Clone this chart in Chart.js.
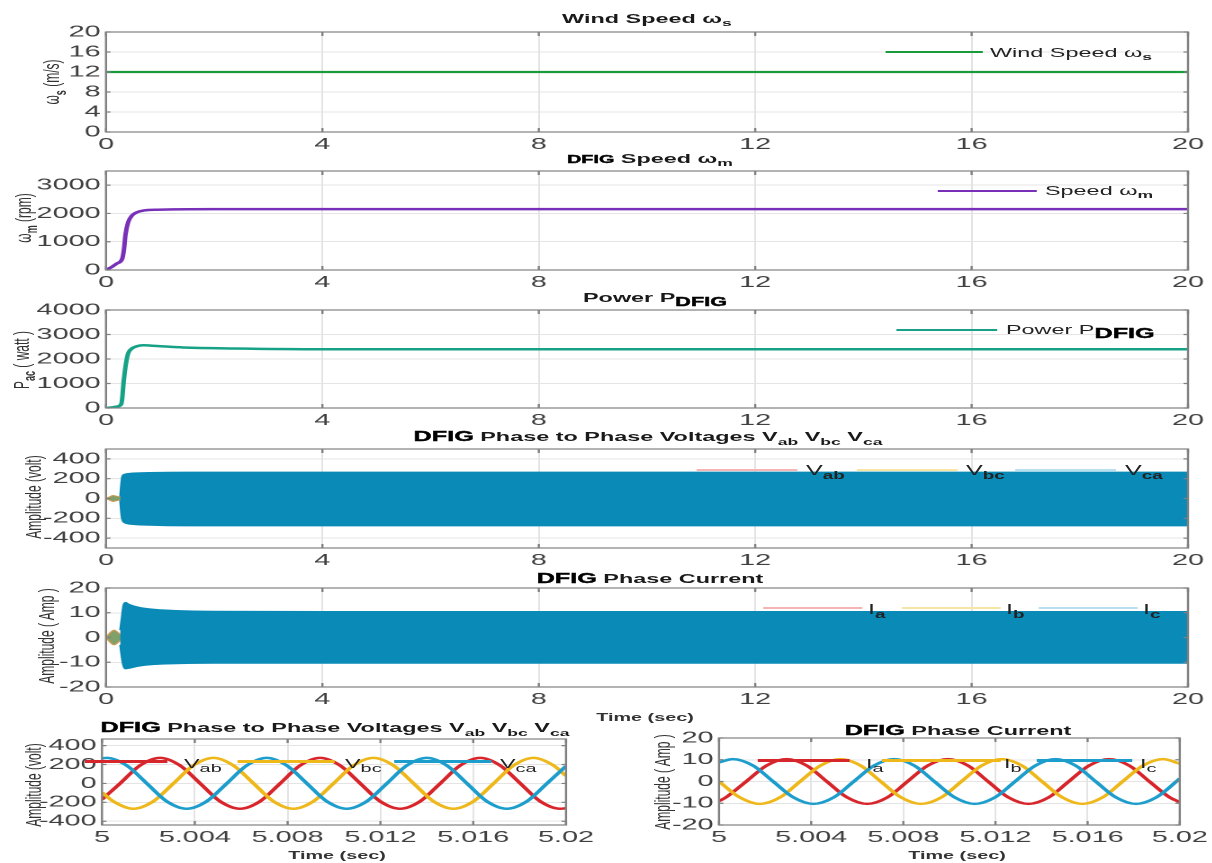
<!DOCTYPE html>
<html>
<head>
<meta charset="utf-8">
<title>DFIG results</title>
<script src="https://cdn.jsdelivr.net/npm/chart.js@4.4.1/dist/chart.umd.min.js"></script>
<style>
html, body { margin: 0; padding: 0; background: #fff; }
body { width: 1212px; height: 863px; overflow: hidden; position: relative; }
#fig { position: absolute; left: 0; top: 0; width: 674px; height: 863px;
       transform: scaleX(1.8); transform-origin: 0 0;
       font-family: "Liberation Sans", Arial, sans-serif; color: #222; }
#fig canvas { position: absolute; left: 0; }
.ttl { position: absolute; font-weight: bold; font-size: 13px; white-space: nowrap;
       transform: translate(-50%, -50%); color: #1a1a1a; line-height: 1; }
.dfig { font-weight: bold; color: #000; -webkit-text-stroke: 0.4px #000; }
.ylab { position: absolute; font-size: 12px; white-space: nowrap; color: #333; line-height: 1;
        transform: translate(-50%, -50%) rotate(-90deg); }
.xlab { position: absolute; font-weight: bold; font-size: 11px; white-space: nowrap; color: #333;
        transform: translate(-50%, -50%); line-height: 1; }
.leg { position: absolute; white-space: nowrap; font-size: 13px; line-height: 1;
       transform: translateY(-50%); color: #222; }
.big { font-size: 14px; }
.legline { position: absolute; }
sub { font-size: 0.75em; font-weight: bold; vertical-align: -0.4em; line-height: 0; }
sub.reg { font-weight: normal; font-size: 0.85em; }
</style>
</head>
<body>
<div id="fig"></div>
<script>
// ---- data ----
// time axis of the long runs (s)
var fullXTicks = [0, 4, 8, 12, 16, 20];
var fullXLabels = ['0', '4', '8', '12', '16', '20'];
// zoomed window (s)
var zoomXTicks = [5, 5.004, 5.008, 5.012, 5.016, 5.02];
var zoomXLabels = ['5', '5.004', '5.008', '5.012', '5.016', '5.02'];

var windYTicks = [0, 4, 8, 12, 16, 20];
var speedYTicks = [0, 1000, 2000, 3000];
var powerYTicks = [0, 1000, 2000, 3000, 4000];
var voltYTicks = [-400, -200, 0, 200, 400];
var currYTicks = [-20, -10, 0, 10, 20];

// wind speed (m/s)
var windT = [0, 20];
var windV = [12, 12];

// DFIG speed (rpm)
var speedT = [0, 0.1, 0.2, 0.3, 0.33, 0.36, 0.41, 0.48, 0.57, 0.69, 0.94, 2, 20];
var speedV = [0, 100, 230, 400, 700, 1250, 1690, 1925, 2040, 2100, 2130, 2150, 2150];

// DFIG power (W)
var powerT = [0, 0.1, 0.2, 0.28, 0.3, 0.33, 0.37, 0.41, 0.48, 0.57, 0.69, 0.94, 1.43, 2.36, 4, 20];
var powerV = [0, 20, 60, 150, 400, 1150, 1830, 2230, 2430, 2520, 2560, 2530, 2470, 2430, 2400, 2400];

// envelope of the phase to phase voltages (V)
var vEnvT = [0.26, 0.28, 0.3, 0.34, 0.45, 0.8, 1.5, 20];
var vEnvHi = [20, 150, 225, 245, 255, 262, 266, 266];
var vEnvLo = [-20, -150, -215, -245, -260, -270, -276, -277];
var vEarlyT = [0, 0.06, 0.13, 0.2, 0.27];
var vEarlyHi = [0, 15, 30, 22, 12];
var vEarlyLo = [0, -15, -30, -22, -12];

// envelope of the phase currents (A)
var iEnvT = [0.26, 0.29, 0.32, 0.36, 0.42, 0.6, 0.9, 1.3, 2, 4, 20];
var iEnvHi = [3, 8, 13, 14.2, 13.5, 12.3, 11.4, 10.9, 10.6, 10.5, 10.5];
var iEnvLo = [-3, -8, -11.5, -12.7, -12.5, -11.6, -10.9, -10.6, -10.4, -10.4, -10.4];
var iEarlyT = [0, 0.08, 0.15, 0.22, 0.27];
var iEarlyHi = [0, 2, 3, 2, 1];
var iEarlyLo = [0, -2, -3, -2, -1];

// zoomed voltages, time in ms after 5 s
var vabMs = [0, 0.78, 1.64, 2.5, 3.36, 4.23, 5.09, 5.95, 6.81, 7.68, 8.54, 9.4, 10.26, 11.13, 11.99, 12.85, 13.71, 14.58, 15.44, 16.3, 17.16, 18.03, 18.89, 19.75, 20];
var vabV = [-170, 0, 190, 270, 190, 0, -190, -268, -190, 0, 190, 270, 190, 0, -190, -268, -190, 0, 190, 270, 190, 0, -190, -268, -262];
var vbcMs = [0, 0.49, 1.35, 2.21, 3.08, 3.94, 4.8, 5.66, 6.53, 7.39, 8.25, 9.11, 9.98, 10.84, 11.7, 12.56, 13.43, 14.29, 15.15, 16.01, 16.88, 17.74, 18.6, 19.46, 20];
var vbcV = [-95, -190, -268, -190, 0, 190, 270, 190, 0, -190, -268, -190, 0, 190, 270, 190, 0, -190, -268, -190, 0, 190, 270, 190, 79];
var vcaMs = [0, 0.2, 1.06, 1.93, 2.79, 3.65, 4.51, 5.38, 6.24, 7.1, 7.96, 8.83, 9.69, 10.55, 11.41, 12.28, 13.14, 14.0, 14.86, 15.73, 16.59, 17.45, 18.31, 19.18, 20];
var vcaV = [265, 270, 190, 0, -190, -268, -190, 0, 190, 270, 190, 0, -190, -268, -190, 0, 190, 270, 190, 0, -190, -268, -190, 0, 184];

// zoomed currents, time in ms after 5 s
var iaMs = [0, 0.3, 1.18, 2.06, 2.93, 3.81, 4.68, 5.56, 6.43, 7.31, 8.18, 9.06, 9.93, 10.81, 11.68, 12.56, 13.43, 14.31, 15.18, 16.06, 16.93, 17.81, 18.68, 19.56, 20];
var iaV = [-9.0, -7.3, 0, 7.3, 10.3, 7.3, 0, -7.3, -10.3, -7.3, 0, 7.3, 10.3, 7.3, 0, -7.3, -10.3, -7.3, 0, 7.3, 10.3, 7.3, 0, -7.3, -9.5];
var ibMs = [0, 0.9, 1.77, 2.65, 3.52, 4.4, 5.27, 6.15, 7.02, 7.9, 8.77, 9.65, 10.52, 11.4, 12.27, 13.15, 14.02, 14.9, 15.77, 16.65, 17.52, 18.4, 19.27, 20];
var ibV = [0, -7.3, -10.3, -7.3, 0, 7.3, 10.3, 7.3, 0, -7.3, -10.3, -7.3, 0, 7.3, 10.3, 7.3, 0, -7.3, -10.3, -7.3, 0, 7.3, 10.3, 8.2];
var icMs = [0, 0.6, 1.48, 2.35, 3.23, 4.1, 4.98, 5.85, 6.73, 7.6, 8.48, 9.35, 10.23, 11.1, 11.98, 12.85, 13.73, 14.6, 15.48, 16.35, 17.23, 18.1, 18.98, 19.85, 20];
var icV = [8.8, 10.3, 7.3, 0, -7.3, -10.3, -7.3, 0, 7.3, 10.3, 7.3, 0, -7.3, -10.3, -7.3, 0, 7.3, 10.3, 7.3, 0, -7.3, -10.3, -7.3, 0, 1.4];

// ---- drawing ----
var S = 1.8;      // the picture is stretched sideways, so is the page
var CW = 674;     // canvas width before the stretch
var fig = document.getElementById('fig');

var BLUE_BAND = '#0a8ab6';
var RED = '#d7262b', YELLOW = '#eeb71a', BLUE = '#1d9dcc';

Chart.defaults.font.family = "'Liberation Sans', Arial, sans-serif";
Chart.defaults.font.size = 16;
Chart.defaults.color = '#404040';

function pts(xs, ys) {
    return xs.map(function (x, i) { return { x: x, y: ys[i] }; });
}
function msPts(ms, ys) {
    return ms.map(function (t, i) { return { x: 5 + t / 1000, y: ys[i] }; });
}
function line(data, color, width, extra) {
    return Object.assign({
        data: data, borderColor: color, borderWidth: width, pointRadius: 0,
        fill: false, cubicInterpolationMode: 'monotone'
    }, extra || {});
}
function labels(arr) { return arr.map(String); }

// box round the plot and the inward tick marks
var framePlugin = {
    id: 'frame',
    afterDraw: function (chart) {
        var ctx = chart.ctx, a = chart.chartArea, sx = chart.scales.x, sy = chart.scales.y;
        ctx.save();
        ctx.strokeStyle = '#808080';
        ctx.lineWidth = 1.2;
        ctx.strokeRect(a.left, a.top, a.right - a.left, a.bottom - a.top);
        ctx.beginPath();
        sx.ticks.forEach(function (t) {
            var px = sx.getPixelForValue(t.value);
            ctx.moveTo(px, a.top); ctx.lineTo(px, a.top + 4);
            ctx.moveTo(px, a.bottom); ctx.lineTo(px, a.bottom - 4);
        });
        sy.ticks.forEach(function (t) {
            var py = sy.getPixelForValue(t.value);
            ctx.moveTo(a.left, py); ctx.lineTo(a.left + 2.5, py);
            ctx.moveTo(a.right, py); ctx.lineTo(a.right - 2.5, py);
        });
        ctx.stroke();
        ctx.restore();
    }
};

// p: plot box in picture pixels (l, r, t, b)
function makePanel(p, xs, ys, datasets) {
    var padTop = 14, axisH = 26;
    var cv = document.createElement('canvas');
    cv.width = CW;
    cv.height = p.b - p.t + padTop + axisH;
    cv.style.top = (p.t - padTop) + 'px';
    fig.appendChild(cv);
    return new Chart(cv, {
        type: 'line',
        data: { datasets: datasets },
        options: {
            responsive: false,
            animation: false,
            devicePixelRatio: 2,
            events: [],
            layout: { padding: { left: 0, right: CW - p.r / S, top: padTop, bottom: 0 } },
            plugins: { legend: { display: false }, tooltip: { enabled: false } },
            scales: {
                x: {
                    type: 'linear', min: xs.min, max: xs.max,
                    afterBuildTicks: function (s) { s.ticks = xs.ticks.map(function (v) { return { value: v }; }); },
                    afterFit: function (s) { s.height = axisH; },
                    ticks: { autoSkip: false, maxRotation: 0, padding: 3,
                             callback: function (v, i) { return xs.labels[i]; } },
                    grid: { color: '#e4e4e4', drawTicks: false },
                    border: { display: false }
                },
                y: {
                    type: 'linear', min: ys.min, max: ys.max,
                    afterBuildTicks: function (s) { s.ticks = ys.ticks.map(function (v) { return { value: v }; }); },
                    afterFit: function (s) { s.width = p.l / S; },
                    ticks: { autoSkip: false, padding: 3,
                             callback: function (v, i) { return ys.labels[i]; } },
                    grid: { color: '#e4e4e4', drawTicks: false },
                    border: { display: false }
                }
            }
        },
        plugins: [framePlugin]
    });
}

var fullX = { min: 0, max: 20, ticks: fullXTicks, labels: fullXLabels };
var zoomX = { min: 5, max: 5.02, ticks: zoomXTicks, labels: zoomXLabels };

makePanel({ l: 106, r: 1188, t: 32, b: 132 }, fullX,
    { min: 0, max: 20, ticks: windYTicks, labels: labels(windYTicks) },
    [line(pts(windT, windV), '#1a9b3b', 2.2)]);

makePanel({ l: 106, r: 1188, t: 171, b: 270 }, fullX,
    { min: 0, max: 3500, ticks: speedYTicks, labels: labels(speedYTicks) },
    [line(pts(speedT, speedV), '#7830b8', 2.5)]);

makePanel({ l: 106, r: 1188, t: 310, b: 408 }, fullX,
    { min: 0, max: 4000, ticks: powerYTicks, labels: labels(powerYTicks) },
    [line(pts(powerT, powerV), '#17a287', 2.5)]);

makePanel({ l: 106, r: 1188, t: 449, b: 548 }, fullX,
    { min: -500, max: 500, ticks: voltYTicks, labels: labels(voltYTicks) },
    [
        line(pts(vEnvT, vEnvHi), BLUE_BAND, 1),
        line(pts(vEnvT, vEnvLo), BLUE_BAND, 1, { fill: '-1', backgroundColor: BLUE_BAND }),
        line(pts(vEarlyT, vEarlyHi), '#d09a50', 1),
        line(pts(vEarlyT, vEarlyLo), '#d09a50', 1, { fill: '-1', backgroundColor: '#7fa06a' })
    ]);

makePanel({ l: 106, r: 1188, t: 588, b: 687 }, fullX,
    { min: -20, max: 20, ticks: currYTicks, labels: labels(currYTicks) },
    [
        line(pts(iEnvT, iEnvHi), BLUE_BAND, 1),
        line(pts(iEnvT, iEnvLo), BLUE_BAND, 1, { fill: '-1', backgroundColor: BLUE_BAND }),
        line(pts(iEarlyT, iEarlyHi), '#d09a50', 1),
        line(pts(iEarlyT, iEarlyLo), '#d09a50', 1, { fill: '-1', backgroundColor: '#7fa06a' })
    ]);

makePanel({ l: 102, r: 566, t: 739, b: 825 }, zoomX,
    { min: -440, max: 470, ticks: voltYTicks, labels: labels(voltYTicks) },
    [
        line(msPts(vcaMs, vcaV), BLUE, 2.5),
        line(msPts(vbcMs, vbcV), YELLOW, 2.5),
        line(msPts(vabMs, vabV), RED, 2.5)
    ]);

makePanel({ l: 719, r: 1191, t: 738, b: 825 }, zoomX,
    { min: -20, max: 20, ticks: currYTicks, labels: labels(currYTicks) },
    [
        line(msPts(icMs, icV), BLUE, 2.5),
        line(msPts(ibMs, ibV), YELLOW, 2.5),
        line(msPts(iaMs, iaV), RED, 2.5)
    ]);

// ---- texts (x, y in picture pixels) ----
function put(cls, html, x, y) {
    var d = document.createElement('div');
    d.className = cls;
    d.innerHTML = html;
    d.style.left = (x / S) + 'px';
    d.style.top = y + 'px';
    fig.appendChild(d);
}
function legLine(x1, x2, y, color, h) {
    var d = document.createElement('div');
    d.className = 'legline';
    d.style.left = (x1 / S) + 'px';
    d.style.width = ((x2 - x1) / S) + 'px';
    d.style.top = (y - h / 2) + 'px';
    d.style.height = h + 'px';
    d.style.background = color;
    fig.appendChild(d);
}
var DF = function (px) { return '<span class="dfig" style="font-size:' + px + 'px">DFIG</span>'; };

// titles
put('ttl', 'Wind Speed &omega;<sub>s</sub>', 647, 18);
put('ttl', DF(11) + ' Speed &omega;<sub>m</sub>', 650, 158);
put('ttl', 'Power P<sub>' + DF(12) + '</sub>', 655, 297);
put('ttl', DF(14) + ' Phase to Phase Voltages V<sub>ab</sub> V<sub>bc</sub> V<sub>ca</sub>', 648, 436);
put('ttl', DF(14) + ' Phase Current', 650, 578);
put('ttl', DF(14) + ' Phase to Phase Voltages V<sub>ab</sub> V<sub>bc</sub> V<sub>ca</sub>', 335, 727);
put('ttl', DF(14) + ' Phase Current', 958, 730);

// axis titles
put('ylab', '&omega;<sub>s</sub> (m/s)', 52, 82);
put('ylab', '&omega;<sub>m</sub> (rpm)', 24, 218);
put('ylab', 'P<sub>ac</sub> ( watt )', 22, 360);
put('ylab', 'Amplitude (volt)', 35, 497);
put('ylab', 'Amplitude ( Amp )', 46, 636);
put('ylab', 'Amplitude (volt)', 34, 785);
put('ylab', 'Amplitude ( Amp )', 662, 782);
put('xlab', 'Time (sec)', 645, 717);
put('xlab', 'Time (sec)', 337, 855);
put('xlab', 'Time (sec)', 957, 855);

// legends
legLine(886, 983, 52, '#1a9b3b', 2);
put('leg', 'Wind Speed &omega;<sub>s</sub>', 990, 52);
legLine(938, 1036, 191, '#7830b8', 2);
put('leg', 'Speed &omega;<sub>m</sub>', 1045, 190);
legLine(897, 997, 330, '#17a287', 2);
put('leg', 'Power P<sub>' + DF(14) + '</sub>', 1006, 329);

legLine(697, 797, 470, '#f5b5b5', 2);
put('leg big', 'V<sub>ab</sub>', 806, 470);
legLine(857, 957, 470, '#f7e5a6', 2);
put('leg big', 'V<sub>bc</sub>', 966, 470);
legLine(1016, 1116, 470, '#b7dff0', 2);
put('leg big', 'V<sub>ca</sub>', 1125, 470);

legLine(763, 862, 608, '#f5b5b5', 2);
put('leg big', 'I<sub>a</sub>', 868, 609);
legLine(902, 1001, 608, '#f7e5a6', 2);
put('leg big', 'I<sub>b</sub>', 1006, 609);
legLine(1038, 1138, 608, '#b7dff0', 2);
put('leg big', 'I<sub>c</sub>', 1143, 609);

legLine(85, 168, 761, RED, 3);
put('leg', 'V<sub class="reg">ab</sub>', 184, 763);
legLine(237, 335, 761, YELLOW, 3);
put('leg', 'V<sub class="reg">bc</sub>', 345, 763);
legLine(394, 492, 761, BLUE, 3);
put('leg', 'V<sub class="reg">ca</sub>', 500, 763);

legLine(758, 850, 760, RED, 3);
put('leg', 'I<sub class="reg">a</sub>', 866, 763);
legLine(882, 1000, 760, YELLOW, 3);
put('leg', 'I<sub class="reg">b</sub>', 1004, 763);
legLine(1036, 1132, 760, BLUE, 3);
put('leg', 'I<sub class="reg">c</sub>', 1140, 763);
</script>
</body>
</html>
